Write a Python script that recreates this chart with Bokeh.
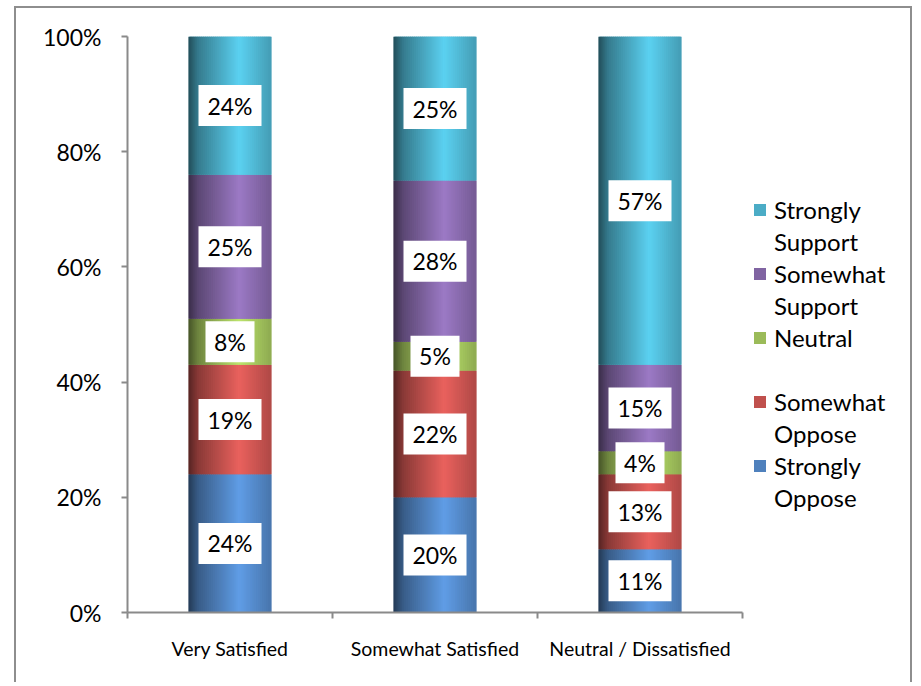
import numpy as np
from bokeh.plotting import figure
from bokeh.models import (ColumnDataSource, Range1d, FixedTicker, NumeralTickFormatter,
                          Legend, LegendItem)
from bokeh.core.properties import value
from bokeh.embed import file_html
from bokeh.resources import INLINE

# ---- data ----
categories = ["Very Satisfied", "Somewhat Satisfied", "Neutral / Dissatisfied"]
series_names = ["Strongly Oppose", "Somewhat Oppose", "Neutral", "Somewhat Support", "Strongly Support"]
legend_lines = [["Strongly", "Oppose"], ["Somewhat", "Oppose"], ["Neutral", "\u00a0"],
                ["Somewhat", "Support"], ["Strongly", "Support"]]
strongly_oppose = [24, 20, 11]
somewhat_oppose = [19, 22, 13]
neutral = [8, 5, 4]
somewhat_support = [25, 28, 15]
strongly_support = [24, 25, 57]
series_colors = ["#4F81BD", "#C0504D", "#9BBB59", "#8064A2", "#4BACC6"]
y_ticks = [0, 0.2, 0.4, 0.6, 0.8, 1.0]

values = [strongly_oppose, somewhat_oppose, neutral, somewhat_support, strongly_support]

FONT = "Lato"
BAR_W = 0.4
N_STRIPS = 40

def hex_rgb(h):
    h = h.lstrip("#")
    return np.array([int(h[i:i + 2], 16) for i in (0, 2, 4)], dtype=float)

def shade(hexcol, f):
    c = np.clip(hex_rgb(hexcol) * f, 0, 255).astype(int)
    return "#%02x%02x%02x" % tuple(c)

n_cat = len(categories)
p = figure(width=898, height=676, output_backend="svg", toolbar_location=None,
           x_range=Range1d(0, n_cat + 0.8), y_range=Range1d(0, 1),
           min_border_left=111, min_border_right=8, min_border_top=28, min_border_bottom=72)
p.styles = {"border": "2px solid #8e8e8e", "border-bottom": "none",
            "margin-left": "14px", "margin-top": "6px"}
p.outline_line_color = None
p.xgrid.visible = False
p.ygrid.visible = False

centers = np.arange(n_cat) + 0.5
bottom = np.zeros(n_cat)
xs, bs, ts, cs = [], [], [], []
lab_x, lab_y, lab_t, lab_w = [], [], [], []
legend_renderers = []
for vals, col, name in zip(values, series_colors, series_names):
    frac = np.array(vals) / 100.0
    top = bottom + frac
    r = p.vbar(x=centers, top=top, bottom=bottom, width=BAR_W, fill_color=col, line_color=None)
    legend_renderers.append(r)
    for k in range(N_STRIPS):
        t = (k + 0.5) / N_STRIPS
        f = np.interp(t, [0, 0.12, 0.62, 1.0], [0.45, 0.72, 1.22, 0.92])
        c = shade(col, f)
        for i in range(n_cat):
            xs.append(centers[i] - BAR_W / 2 + t * BAR_W)
            bs.append(bottom[i]); ts.append(top[i]); cs.append(c)
    for i in range(n_cat):
        txt = "%d%%" % vals[i]
        lab_x.append(centers[i]); lab_y.append((bottom[i] + top[i]) / 2)
        lab_t.append(txt)
        lab_w.append(35 + 14 * (len(txt) - 1))
    bottom = top

strip_src = ColumnDataSource(dict(x=xs, bottom=bs, top=ts, color=cs))
p.vbar(x="x", bottom="bottom", top="top", width=BAR_W / N_STRIPS * 1.6,
       fill_color="color", line_color=None, source=strip_src)

lab_src = ColumnDataSource(dict(x=lab_x, y=lab_y, text=lab_t, w=lab_w))
p.rect(x="x", y="y", width="w", height=41, width_units="screen", height_units="screen",
       fill_color="white", line_color=None, source=lab_src)
p.text(x="x", y="y", text="text", source=lab_src, text_align="center", text_baseline="middle",
       text_font=value(FONT), text_font_size="23px", text_color="black")

# axes
p.yaxis.ticker = FixedTicker(ticks=y_ticks, minor_ticks=[])
p.yaxis.formatter = NumeralTickFormatter(format="0%")
p.yaxis.major_label_text_font = FONT
p.yaxis.major_label_text_font_size = "23px"
p.yaxis.major_label_text_color = "black"
p.yaxis.axis_line_color = "#8a8a8a"
p.yaxis.axis_line_width = 2
p.yaxis.major_tick_line_color = "#8a8a8a"
p.yaxis.major_tick_line_width = 2
p.yaxis.major_tick_out = 6
p.yaxis.major_tick_in = 0
p.yaxis.major_label_standoff = 20

p.xaxis.bounds = (0, n_cat)
p.xaxis.ticker = FixedTicker(ticks=list(centers), minor_ticks=list(range(n_cat + 1)))
p.xaxis.major_label_overrides = {float(c): n for c, n in zip(centers, categories)}
p.xaxis.major_label_text_font = FONT
p.xaxis.major_label_text_font_size = "19.5px"
p.xaxis.major_label_text_color = "black"
p.xaxis.axis_line_color = "#8a8a8a"
p.xaxis.axis_line_width = 2
p.xaxis.major_tick_line_color = None
p.xaxis.minor_tick_line_color = "#8a8a8a"
p.xaxis.minor_tick_line_width = 2
p.xaxis.minor_tick_out = 6
p.xaxis.minor_tick_in = 0
p.xaxis.major_label_standoff = 18

items = []
for lines, r in list(zip(legend_lines, legend_renderers))[::-1]:
    items.append(LegendItem(label=lines[0], renderers=[r]))
    items.append(LegendItem(label=lines[1], renderers=[]))
legend = Legend(items=items, location=(625, 99), orientation="vertical",
                label_text_font=FONT, label_text_font_size="24px", label_text_color="black",
                glyph_width=15, glyph_height=15, label_standoff=7, spacing=0,
                label_height=32, padding=0, margin=0, border_line_color=None,
                background_fill_alpha=0)
p.add_layout(legend, "center")

open("out.html", "w").write(file_html(p, INLINE))
